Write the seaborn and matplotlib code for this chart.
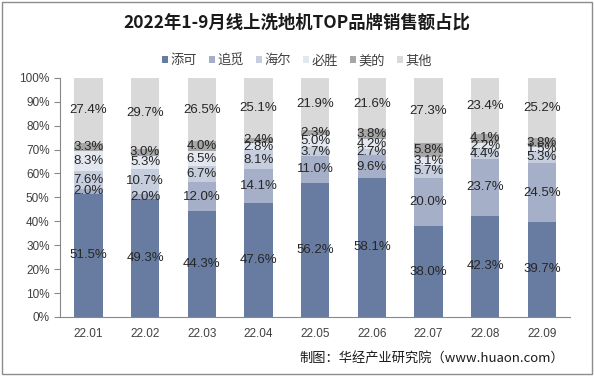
import numpy as np
import pandas as pd
import seaborn as sns
import matplotlib.pyplot as plt
from matplotlib.patches import Rectangle

months = ["22.01", "22.02", "22.03", "22.04", "22.05", "22.06", "22.07", "22.08", "22.09"]
brands = ["添可", "追觅", "海尔", "必胜", "美的", "其他"]
tineco = [51.5, 49.3, 44.3, 47.6, 56.2, 58.1, 38.0, 42.3, 39.7]
dreame = [2.0, 2.0, 12.0, 14.1, 11.0, 9.6, 20.0, 23.7, 24.5]
haier = [7.6, 10.7, 6.7, 8.1, 3.7, 2.7, 5.7, 4.4, 5.3]
bissell = [8.3, 5.3, 6.5, 2.8, 5.0, 4.2, 3.1, 2.2, 1.5]
midea = [3.3, 3.0, 4.0, 2.4, 2.3, 3.8, 5.8, 4.1, 3.8]
others = [27.4, 29.7, 26.5, 25.1, 21.9, 21.6, 27.3, 23.4, 25.2]
colors = ["#687ca2", "#a5b0c8", "#c6cddd", "#e3e7ef", "#a6a6a6", "#d9d9d9"]

sns.set_style("white")
plt.rcParams['font.family'] = ['Liberation Sans', 'Noto Sans CJK SC', 'DejaVu Sans']

df = pd.DataFrame({"month": months, "添可": tineco, "追觅": dreame, "海尔": haier,
                   "必胜": bissell, "美的": midea, "其他": others})

fig = plt.figure(figsize=(5.94, 3.76), dpi=100)
ax = fig.add_axes([0.101, 0.157, 0.859, 0.636])

bottom = np.zeros(len(months))
for b, c in zip(brands, colors):
    vals = df[b].to_numpy()
    sns.barplot(data=df, x="month", y=b, bottom=bottom, color=c, width=0.5,
                ax=ax, label=b, saturation=1, linewidth=0)
    for i, v in enumerate(vals):
        ax.text(i, bottom[i] + v / 2, f"{v:.1f}%", ha="center", va="center",
                fontsize=9.5, color="#262626")
    bottom = bottom + vals

ax.set_ylim(0, 100)
ax.set_xlim(-0.5, len(months) - 0.5)
ax.set_yticks(range(0, 101, 10))
ax.set_yticklabels([f"{t}%" for t in range(0, 101, 10)], fontsize=8.5, color="#404040")
ax.set_xticks(range(len(months)))
ax.set_xticklabels(months, fontsize=8.5, color="#404040")
ax.set_xticks(np.arange(-0.5, len(months), 1), minor=True)
ax.tick_params(axis="x", which="major", length=0, pad=8)
ax.tick_params(axis="x", which="minor", length=4, color="#888888")
ax.tick_params(axis="y", length=4, color="#888888", left=True)
ax.set_xlabel("")
ax.set_ylabel("")
sns.despine(ax=ax)
for s in ["left", "bottom"]:
    ax.spines[s].set_color("#888888")
    ax.spines[s].set_linewidth(0.8)

ax.legend(loc="center", bbox_to_anchor=(0.5, 0.838), bbox_transform=fig.transFigure,
          ncol=6, frameon=False, handlelength=0.45, handleheight=0.45,
          handletextpad=0.2, columnspacing=0.9, labelcolor="#404040",
          prop={"family": ["Noto Sans CJK SC"], "size": 9.5})

fig.text(0.5, 0.94, "2022年1-9月线上洗地机TOP品牌销售额占比", ha="center", va="center",
         fontsize=12.5, fontweight="bold", family=["Noto Sans CJK SC"], color="#1a1a1a")
fig.text(0.95, 0.048, "制图：华经产业研究院（www.huaon.com）", ha="right", va="center",
         fontsize=9.5, family=["Noto Sans CJK SC", "DejaVu Sans"], color="#1a1a1a")

fig.add_artist(Rectangle((0.004, 0.006), 0.992, 0.988, transform=fig.transFigure,
                         fill=False, edgecolor="#8c8c8c", linewidth=1))

fig.savefig("out.png", dpi=100)
